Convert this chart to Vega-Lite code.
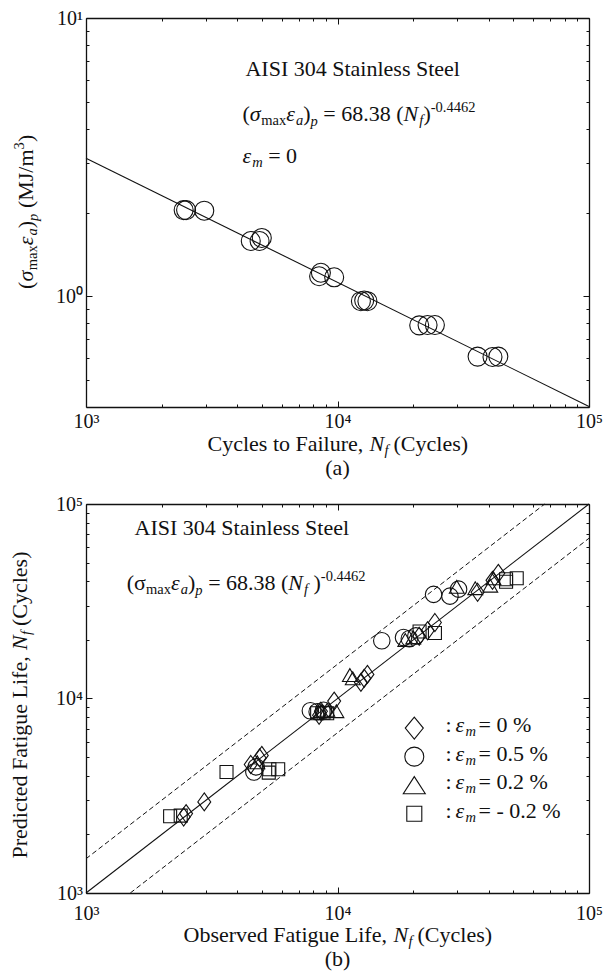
{
  "$schema": "https://vega.github.io/schema/vega-lite/v6.json",
  "background": "white",
  "padding": {"left": 8, "top": 8, "right": 0, "bottom": 0},
  "spacing": 15,
  "config": {
    "view": {"stroke": null},
    "font": "Liberation Serif",
    "mark": {"font": "Liberation Serif"},
    "text": {"font": "Liberation Serif", "fontSize": 22, "color": "#111", "align": "left", "baseline": "alphabetic"},
    "axis": {"domainColor": "#111", "domainWidth": 1.3, "tickColor": "#111", "tickWidth": 1, "labelFont": "Liberation Serif", "labelFontSize": 20, "labelColor": "#111", "grid": false, "labelOverlap": false, "labelFlush": false}
  },
  "vconcat": [
    {
      "width": 503,
      "height": 389,
      "resolve": {"axis": {"x": "independent", "y": "independent"}},
      "layer": [
        {
          "data": {"values": [
            {"N": 2445, "W": 2.04}, {"N": 2500, "W": 2.04}, {"N": 2953, "W": 2.03},
            {"N": 4520, "W": 1.58}, {"N": 4900, "W": 1.58}, {"N": 5000, "W": 1.62},
            {"N": 8450, "W": 1.18}, {"N": 8590, "W": 1.215}, {"N": 9700, "W": 1.17},
            {"N": 12390, "W": 0.96}, {"N": 12770, "W": 0.965}, {"N": 13150, "W": 0.96},
            {"N": 21130, "W": 0.786}, {"N": 22810, "W": 0.788}, {"N": 24390, "W": 0.788},
            {"N": 36060, "W": 0.607}, {"N": 41330, "W": 0.605}, {"N": 43600, "W": 0.607}
          ]},
          "mark": {"type": "point", "shape": "circle", "size": 361, "filled": false, "stroke": "#111", "strokeWidth": 1.1, "opacity": 1},
          "encoding": {
            "x": {"field": "N", "type": "quantitative", "scale": {"type": "log", "domain": [1000, 100000], "nice": false},
              "axis": {"orient": "bottom", "title": null, "values": [1000,2000,3000,4000,5000,6000,7000,8000,9000,10000,20000,30000,40000,50000,60000,70000,80000,90000,100000],
                "labelExpr": "abs(log(datum.value)/LN10 - round(log(datum.value)/LN10)) < 0.001 ? '10' + ['⁰','¹','²','³','⁴','⁵'][round(log(datum.value)/LN10)] : ''",
                "tickSize": {"condition": {"test": "abs(log(datum.value)/LN10 - round(log(datum.value)/LN10)) < 0.001", "value": -6}, "value": -3},
                "labelPadding": 10.5}},
            "y": {"field": "W", "type": "quantitative", "scale": {"type": "log", "domain": [0.4, 10], "nice": false},
              "axis": {"orient": "left", "title": null, "values": [0.5,0.6,0.7,0.8,0.9,1,2,3,4,5,6,7,8,9,10],
                "labelExpr": "abs(log(datum.value)/LN10 - round(log(datum.value)/LN10)) < 0.001 ? '10' + ['⁰','¹','²','³','⁴','⁵'][round(log(datum.value)/LN10)] : ''",
                "tickSize": {"condition": {"test": "abs(log(datum.value)/LN10 - round(log(datum.value)/LN10)) < 0.001", "value": -6}, "value": -3},
                "labelPadding": 9.5}}
          }
        },
        {
          "data": {"values": [{"N": 1000, "W": 3.135}, {"N": 100000, "W": 0.4017}]},
          "mark": {"type": "line", "stroke": "#111", "strokeWidth": 1.1},
          "encoding": {
            "x": {"field": "N", "type": "quantitative", "scale": {"type": "log", "domain": [1000, 100000], "nice": false},
              "axis": {"orient": "top", "title": null, "labels": false, "values": [1000,2000,3000,4000,5000,6000,7000,8000,9000,10000,20000,30000,40000,50000,60000,70000,80000,90000,100000],
                "tickSize": {"condition": {"test": "abs(log(datum.value)/LN10 - round(log(datum.value)/LN10)) < 0.001", "value": -6}, "value": -3}}},
            "y": {"field": "W", "type": "quantitative", "scale": {"type": "log", "domain": [0.4, 10], "nice": false},
              "axis": {"orient": "right", "title": null, "labels": false, "values": [0.5,0.6,0.7,0.8,0.9,1,2,3,4,5,6,7,8,9,10],
                "tickSize": {"condition": {"test": "abs(log(datum.value)/LN10 - round(log(datum.value)/LN10)) < 0.001", "value": -6}, "value": -3}}}
          }
        },
        {
          "data": {"values": [{}]},
          "encoding": {
            "x": {"datum": 4306, "type": "quantitative", "scale": {"type": "log", "domain": [1000, 100000], "nice": false}, "axis": null},
            "y": {"datum": 6.18, "type": "quantitative", "scale": {"type": "log", "domain": [0.4, 10], "nice": false}, "axis": null}
          },
          "layer": [
            {"mark": {"type": "text", "text": "AISI 304 Stainless Steel"}}
          ]
        },
        {
          "data": {"values": [{}]},
          "encoding": {
            "x": {"datum": 4190, "type": "quantitative", "scale": {"type": "log", "domain": [1000, 100000], "nice": false}, "axis": null},
            "y": {"datum": 4.25, "type": "quantitative", "scale": {"type": "log", "domain": [0.4, 10], "nice": false}, "axis": null}
          },
          "layer": [
            {"mark": {"type": "text", "text": "(", "dx": 0}},
            {"mark": {"type": "text", "text": "σ", "dx": 7.3, "fontStyle": "italic"}},
            {"mark": {"type": "text", "text": "max", "dx": 18.7, "dy": 4, "fontSize": 14.5}},
            {"mark": {"type": "text", "text": "ε", "dx": 43.7, "fontStyle": "italic"}},
            {"mark": {"type": "text", "text": "a", "dx": 53.4, "dy": 4, "fontSize": 14.5, "fontStyle": "italic"}},
            {"mark": {"type": "text", "text": ")", "dx": 60.7}},
            {"mark": {"type": "text", "text": "p", "dx": 68, "dy": 5, "fontSize": 14.5, "fontStyle": "italic"}},
            {"mark": {"type": "text", "text": "= 68.38 (", "dx": 80.8}},
            {"mark": {"type": "text", "text": "N", "dx": 161, "fontStyle": "italic"}},
            {"mark": {"type": "text", "text": "f", "dx": 176.7, "dy": 4, "fontSize": 14.5, "fontStyle": "italic"}},
            {"mark": {"type": "text", "text": ")", "dx": 181}},
            {"mark": {"type": "text", "text": "-0.4462", "dx": 188.3, "dy": -9, "fontSize": 14.5}}
          ]
        },
        {
          "data": {"values": [{}]},
          "encoding": {
            "x": {"datum": 4190, "type": "quantitative", "scale": {"type": "log", "domain": [1000, 100000], "nice": false}, "axis": null},
            "y": {"datum": 3.02, "type": "quantitative", "scale": {"type": "log", "domain": [0.4, 10], "nice": false}, "axis": null}
          },
          "layer": [
            {"mark": {"type": "text", "text": "ε", "dx": 0, "fontStyle": "italic"}},
            {"mark": {"type": "text", "text": "m", "dx": 9.7, "dy": 4, "fontSize": 14.5, "fontStyle": "italic"}},
            {"mark": {"type": "text", "text": "= 0", "dx": 25.7}}
          ]
        },
        {
          "data": {"values": [{}]},
          "encoding": {
            "x": {"datum": 10000, "type": "quantitative", "scale": {"type": "log", "domain": [1000, 100000], "nice": false}, "axis": null},
            "y": {"datum": 0.278, "type": "quantitative", "scale": {"type": "log", "domain": [0.4, 10], "nice": false}, "axis": null}
          },
          "layer": [
            {"mark": {"type": "text", "text": "Cycles to Failure,", "dx": -130}},
            {"mark": {"type": "text", "text": "N", "dx": 32, "fontStyle": "italic"}},
            {"mark": {"type": "text", "text": "f", "dx": 47, "dy": 4, "fontSize": 14.5, "fontStyle": "italic"}},
            {"mark": {"type": "text", "text": "(Cycles)", "dx": 56}}
          ]
        },
        {
          "data": {"values": [{}]},
          "encoding": {
            "x": {"datum": 10000, "type": "quantitative", "scale": {"type": "log", "domain": [1000, 100000], "nice": false}, "axis": null},
            "y": {"datum": 0.228, "type": "quantitative", "scale": {"type": "log", "domain": [0.4, 10], "nice": false}, "axis": null}
          },
          "layer": [
            {"mark": {"type": "text", "text": "(a)", "align": "center"}}
          ]
        },
        {
          "data": {"values": [{}]},
          "encoding": {
            "x": {"datum": 615, "type": "quantitative", "scale": {"type": "log", "domain": [1000, 100000], "nice": false}, "axis": null},
            "y": {"datum": 2.01, "type": "quantitative", "scale": {"type": "log", "domain": [0.4, 10], "nice": false}, "axis": null}
          },
          "layer": [
            {"mark": {"type": "text", "angle": 270, "text": "(", "dx": -77}},
            {"mark": {"type": "text", "angle": 270, "text": "σ", "dx": -69.7, "fontStyle": "italic"}},
            {"mark": {"type": "text", "angle": 270, "text": "max", "dx": -58.3, "dy": 4, "fontSize": 14.5}},
            {"mark": {"type": "text", "angle": 270, "text": "ε", "dx": -33.3, "fontStyle": "italic"}},
            {"mark": {"type": "text", "angle": 270, "text": "a", "dx": -23.6, "dy": 4, "fontSize": 14.5, "fontStyle": "italic"}},
            {"mark": {"type": "text", "angle": 270, "text": ")", "dx": -16.3}},
            {"mark": {"type": "text", "angle": 270, "text": "p", "dx": -9, "dy": 5, "fontSize": 14.5, "fontStyle": "italic"}},
            {"mark": {"type": "text", "angle": 270, "text": "(MJ/m", "dx": 3.8}},
            {"mark": {"type": "text", "angle": 270, "text": "3", "dx": 62.5, "dy": -9, "fontSize": 14.5}},
            {"mark": {"type": "text", "angle": 270, "text": ")", "dx": 69.8}}
          ]
        }
      ]
    },
    {
      "width": 503,
      "height": 389,
      "resolve": {"axis": {"x": "independent", "y": "independent"}},
      "layer": [
        {
          "data": {"values": [
            {"obs": 2445, "pred": 2460, "em": "0 %"}, {"obs": 2500, "pred": 2560, "em": "0 %"}, {"obs": 2953, "pred": 2940, "em": "0 %"},
            {"obs": 4520, "pred": 4580, "em": "0 %"}, {"obs": 4900, "pred": 4950, "em": "0 %"}, {"obs": 5000, "pred": 5100, "em": "0 %"},
            {"obs": 8450, "pred": 8200, "em": "0 %"}, {"obs": 8590, "pred": 8600, "em": "0 %"}, {"obs": 9700, "pred": 9700, "em": "0 %"},
            {"obs": 12390, "pred": 12100, "em": "0 %"}, {"obs": 12770, "pred": 12700, "em": "0 %"}, {"obs": 13150, "pred": 13300, "em": "0 %"},
            {"obs": 21130, "pred": 20900, "em": "0 %"}, {"obs": 22810, "pred": 22300, "em": "0 %"}, {"obs": 24390, "pred": 24600, "em": "0 %"},
            {"obs": 36060, "pred": 35200, "em": "0 %"}, {"obs": 41330, "pred": 40500, "em": "0 %"}, {"obs": 43600, "pred": 44000, "em": "0 %"},
            {"obs": 4650, "pred": 4190, "em": "0.5 %"}, {"obs": 4750, "pred": 4450, "em": "0.5 %"}, {"obs": 7800, "pred": 8650, "em": "0.5 %"},
            {"obs": 8300, "pred": 8550, "em": "0.5 %"}, {"obs": 8800, "pred": 8700, "em": "0.5 %"}, {"obs": 15000, "pred": 19800, "em": "0.5 %"},
            {"obs": 18300, "pred": 20600, "em": "0.5 %"}, {"obs": 19300, "pred": 20300, "em": "0.5 %"}, {"obs": 20500, "pred": 21000, "em": "0.5 %"},
            {"obs": 24100, "pred": 34300, "em": "0.5 %"}, {"obs": 28000, "pred": 33600, "em": "0.5 %"}, {"obs": 30300, "pred": 36500, "em": "0.5 %"},
            {"obs": 4800, "pred": 4700, "em": "0.2 %"}, {"obs": 8600, "pred": 8600, "em": "0.2 %"}, {"obs": 9100, "pred": 8750, "em": "0.2 %"},
            {"obs": 9900, "pred": 8600, "em": "0.2 %"}, {"obs": 11200, "pred": 13200, "em": "0.2 %"}, {"obs": 11500, "pred": 12700, "em": "0.2 %"},
            {"obs": 18600, "pred": 20000, "em": "0.2 %"}, {"obs": 20000, "pred": 20600, "em": "0.2 %"}, {"obs": 29800, "pred": 37500, "em": "0.2 %"},
            {"obs": 35300, "pred": 36900, "em": "0.2 %"}, {"obs": 40500, "pred": 38000, "em": "0.2 %"}, {"obs": 41700, "pred": 41500, "em": "0.2 %"},
            {"obs": 2160, "pred": 2480, "em": "-0.2 %"}, {"obs": 2380, "pred": 2500, "em": "-0.2 %"}, {"obs": 3620, "pred": 4190, "em": "-0.2 %"},
            {"obs": 5330, "pred": 4160, "em": "-0.2 %"}, {"obs": 5360, "pred": 4330, "em": "-0.2 %"}, {"obs": 5810, "pred": 4330, "em": "-0.2 %"},
            {"obs": 8300, "pred": 8400, "em": "-0.2 %"}, {"obs": 8800, "pred": 8450, "em": "-0.2 %"}, {"obs": 9100, "pred": 8400, "em": "-0.2 %"},
            {"obs": 21200, "pred": 22100, "em": "-0.2 %"}, {"obs": 24400, "pred": 21700, "em": "-0.2 %"}, {"obs": 46800, "pred": 41000, "em": "-0.2 %"},
            {"obs": 46800, "pred": 39800, "em": "-0.2 %"}, {"obs": 51600, "pred": 41500, "em": "-0.2 %"}
          ]},
          "mark": {"type": "point", "filled": false, "stroke": "#111", "strokeWidth": 1.1, "opacity": 1},
          "encoding": {
            "x": {"field": "obs", "type": "quantitative", "scale": {"type": "log", "domain": [1000, 100000], "nice": false},
              "axis": {"orient": "bottom", "title": null, "values": [1000,2000,3000,4000,5000,6000,7000,8000,9000,10000,20000,30000,40000,50000,60000,70000,80000,90000,100000],
                "labelExpr": "abs(log(datum.value)/LN10 - round(log(datum.value)/LN10)) < 0.001 ? '10' + ['⁰','¹','²','³','⁴','⁵'][round(log(datum.value)/LN10)] : ''",
                "tickSize": {"condition": {"test": "abs(log(datum.value)/LN10 - round(log(datum.value)/LN10)) < 0.001", "value": -6}, "value": -3},
                "labelPadding": 16}},
            "y": {"field": "pred", "type": "quantitative", "scale": {"type": "log", "domain": [1000, 100000], "nice": false},
              "axis": {"orient": "left", "title": null, "values": [1000,2000,3000,4000,5000,6000,7000,8000,9000,10000,20000,30000,40000,50000,60000,70000,80000,90000,100000],
                "labelExpr": "abs(log(datum.value)/LN10 - round(log(datum.value)/LN10)) < 0.001 ? '10' + ['⁰','¹','²','³','⁴','⁵'][round(log(datum.value)/LN10)] : ''",
                "tickSize": {"condition": {"test": "abs(log(datum.value)/LN10 - round(log(datum.value)/LN10)) < 0.001", "value": -6}, "value": -3},
                "labelPadding": 9.5}},
            "shape": {"field": "em", "type": "nominal", "scale": {"domain": ["0 %", "0.5 %", "0.2 %", "-0.2 %"], "range": ["M0,-1L0.72,0L0,1L-0.72,0Z", "circle", "triangle-up", "square"]}, "legend": null},
            "size": {"field": "em", "type": "ordinal", "scale": {"domain": ["0 %", "0.5 %", "0.2 %", "-0.2 %"], "range": [324, 169, 196, 144]}, "legend": null}
          }
        },
        {
          "data": {"values": [{"obs": 1000, "pred": 1000}, {"obs": 100000, "pred": 100000}]},
          "mark": {"type": "line", "stroke": "#111", "strokeWidth": 1.1},
          "encoding": {
            "x": {"field": "obs", "type": "quantitative", "scale": {"type": "log", "domain": [1000, 100000], "nice": false},
              "axis": {"orient": "top", "title": null, "labels": false, "values": [1000,2000,3000,4000,5000,6000,7000,8000,9000,10000,20000,30000,40000,50000,60000,70000,80000,90000,100000],
                "tickSize": {"condition": {"test": "abs(log(datum.value)/LN10 - round(log(datum.value)/LN10)) < 0.001", "value": -6}, "value": -3}}},
            "y": {"field": "pred", "type": "quantitative", "scale": {"type": "log", "domain": [1000, 100000], "nice": false},
              "axis": {"orient": "right", "title": null, "labels": false, "values": [1000,2000,3000,4000,5000,6000,7000,8000,9000,10000,20000,30000,40000,50000,60000,70000,80000,90000,100000],
                "tickSize": {"condition": {"test": "abs(log(datum.value)/LN10 - round(log(datum.value)/LN10)) < 0.001", "value": -6}, "value": -3}}}
          }
        },
        {
          "data": {"values": [{"obs": 1000, "pred": 1500}, {"obs": 66667, "pred": 100000}]},
          "mark": {"type": "line", "stroke": "#111", "strokeWidth": 1, "strokeDash": [5, 3]},
          "encoding": {
            "x": {"field": "obs", "type": "quantitative", "scale": {"type": "log", "domain": [1000, 100000], "nice": false}, "axis": null},
            "y": {"field": "pred", "type": "quantitative", "scale": {"type": "log", "domain": [1000, 100000], "nice": false}, "axis": null}
          }
        },
        {
          "data": {"values": [{"obs": 1500, "pred": 1000}, {"obs": 100000, "pred": 66667}]},
          "mark": {"type": "line", "stroke": "#111", "strokeWidth": 1, "strokeDash": [5, 3]},
          "encoding": {
            "x": {"field": "obs", "type": "quantitative", "scale": {"type": "log", "domain": [1000, 100000], "nice": false}, "axis": null},
            "y": {"field": "pred", "type": "quantitative", "scale": {"type": "log", "domain": [1000, 100000], "nice": false}, "axis": null}
          }
        },
        {
          "data": {"values": [{}]},
          "encoding": {
            "x": {"datum": 1560, "type": "quantitative", "scale": {"type": "log", "domain": [1000, 100000], "nice": false}, "axis": null},
            "y": {"datum": 69200, "type": "quantitative", "scale": {"type": "log", "domain": [1000, 100000], "nice": false}, "axis": null}
          },
          "layer": [
            {"mark": {"type": "text", "text": "AISI 304 Stainless Steel"}}
          ]
        },
        {
          "data": {"values": [{}]},
          "encoding": {
            "x": {"datum": 1452, "type": "quantitative", "scale": {"type": "log", "domain": [1000, 100000], "nice": false}, "axis": null},
            "y": {"datum": 36050, "type": "quantitative", "scale": {"type": "log", "domain": [1000, 100000], "nice": false}, "axis": null}
          },
          "layer": [
            {"mark": {"type": "text", "text": "(", "dx": 0}},
            {"mark": {"type": "text", "text": "σ", "dx": 7.3}},
            {"mark": {"type": "text", "text": "max", "dx": 19.3, "dy": 4, "fontSize": 14.5}},
            {"mark": {"type": "text", "text": "ε", "dx": 44.3, "fontStyle": "italic"}},
            {"mark": {"type": "text", "text": "a", "dx": 54, "dy": 4, "fontSize": 14.5, "fontStyle": "italic"}},
            {"mark": {"type": "text", "text": ")", "dx": 61.3}},
            {"mark": {"type": "text", "text": "p", "dx": 68.6, "dy": 5, "fontSize": 14.5, "fontStyle": "italic"}},
            {"mark": {"type": "text", "text": "= 68.38 (", "dx": 81.4}},
            {"mark": {"type": "text", "text": "N", "dx": 161.6, "fontStyle": "italic"}},
            {"mark": {"type": "text", "text": "f", "dx": 177.3, "dy": 4, "fontSize": 14.5, "fontStyle": "italic"}},
            {"mark": {"type": "text", "text": ")", "dx": 186.8}},
            {"mark": {"type": "text", "text": "-0.4462", "dx": 194.1, "dy": -9, "fontSize": 14.5}}
          ]
        },
        {
          "data": {"values": [{}]},
          "mark": {"type": "point", "shape": "M0,-1L0.82,0L0,1L-0.82,0Z", "size": 484, "filled": false, "stroke": "#111", "strokeWidth": 1.1, "opacity": 1},
          "encoding": {
            "x": {"datum": 20200, "type": "quantitative", "scale": {"type": "log", "domain": [1000, 100000], "nice": false}, "axis": null},
            "y": {"datum": 7047, "type": "quantitative", "scale": {"type": "log", "domain": [1000, 100000], "nice": false}, "axis": null}
          }
        },
        {
          "data": {"values": [{}]},
          "mark": {"type": "point", "shape": "circle", "size": 361, "filled": false, "stroke": "#111", "strokeWidth": 1.1, "opacity": 1},
          "encoding": {
            "x": {"datum": 20200, "type": "quantitative", "scale": {"type": "log", "domain": [1000, 100000], "nice": false}, "axis": null},
            "y": {"datum": 5023, "type": "quantitative", "scale": {"type": "log", "domain": [1000, 100000], "nice": false}, "axis": null}
          }
        },
        {
          "data": {"values": [{}]},
          "mark": {"type": "point", "shape": "M0,-0.78L1,0.78L-1,0.78Z", "size": 484, "filled": false, "stroke": "#111", "strokeWidth": 1.1, "opacity": 1},
          "encoding": {
            "x": {"datum": 20200, "type": "quantitative", "scale": {"type": "log", "domain": [1000, 100000], "nice": false}, "axis": null},
            "y": {"datum": 3583, "type": "quantitative", "scale": {"type": "log", "domain": [1000, 100000], "nice": false}, "axis": null}
          }
        },
        {
          "data": {"values": [{}]},
          "mark": {"type": "point", "shape": "square", "size": 225, "filled": false, "stroke": "#111", "strokeWidth": 1.1, "opacity": 1},
          "encoding": {
            "x": {"datum": 20200, "type": "quantitative", "scale": {"type": "log", "domain": [1000, 100000], "nice": false}, "axis": null},
            "y": {"datum": 2554, "type": "quantitative", "scale": {"type": "log", "domain": [1000, 100000], "nice": false}, "axis": null}
          }
        },
        {
          "data": {"values": [{}]},
          "encoding": {
            "x": {"datum": 26880, "type": "quantitative", "scale": {"type": "log", "domain": [1000, 100000], "nice": false}, "axis": null},
            "y": {"datum": 6718, "type": "quantitative", "scale": {"type": "log", "domain": [1000, 100000], "nice": false}, "axis": null}
          },
          "layer": [
            {"mark": {"type": "text", "text": ":", "dx": 0}},
            {"mark": {"type": "text", "text": "ε", "dx": 10, "fontStyle": "italic"}},
            {"mark": {"type": "text", "text": "m", "dx": 20, "dy": 4, "fontSize": 14.5, "fontStyle": "italic"}},
            {"mark": {"type": "text", "text": "= 0 %", "dx": 33}}
          ]
        },
        {
          "data": {"values": [{}]},
          "encoding": {
            "x": {"datum": 26880, "type": "quantitative", "scale": {"type": "log", "domain": [1000, 100000], "nice": false}, "axis": null},
            "y": {"datum": 4786, "type": "quantitative", "scale": {"type": "log", "domain": [1000, 100000], "nice": false}, "axis": null}
          },
          "layer": [
            {"mark": {"type": "text", "text": ":", "dx": 0}},
            {"mark": {"type": "text", "text": "ε", "dx": 10, "fontStyle": "italic"}},
            {"mark": {"type": "text", "text": "m", "dx": 20, "dy": 4, "fontSize": 14.5, "fontStyle": "italic"}},
            {"mark": {"type": "text", "text": "= 0.5 %", "dx": 33}}
          ]
        },
        {
          "data": {"values": [{}]},
          "encoding": {
            "x": {"datum": 26880, "type": "quantitative", "scale": {"type": "log", "domain": [1000, 100000], "nice": false}, "axis": null},
            "y": {"datum": 3418, "type": "quantitative", "scale": {"type": "log", "domain": [1000, 100000], "nice": false}, "axis": null}
          },
          "layer": [
            {"mark": {"type": "text", "text": ":", "dx": 0}},
            {"mark": {"type": "text", "text": "ε", "dx": 10, "fontStyle": "italic"}},
            {"mark": {"type": "text", "text": "m", "dx": 20, "dy": 4, "fontSize": 14.5, "fontStyle": "italic"}},
            {"mark": {"type": "text", "text": "= 0.2 %", "dx": 33}}
          ]
        },
        {
          "data": {"values": [{}]},
          "encoding": {
            "x": {"datum": 26880, "type": "quantitative", "scale": {"type": "log", "domain": [1000, 100000], "nice": false}, "axis": null},
            "y": {"datum": 2439, "type": "quantitative", "scale": {"type": "log", "domain": [1000, 100000], "nice": false}, "axis": null}
          },
          "layer": [
            {"mark": {"type": "text", "text": ":", "dx": 0}},
            {"mark": {"type": "text", "text": "ε", "dx": 10, "fontStyle": "italic"}},
            {"mark": {"type": "text", "text": "m", "dx": 20, "dy": 4, "fontSize": 14.5, "fontStyle": "italic"}},
            {"mark": {"type": "text", "text": "= - 0.2 %", "dx": 33}}
          ]
        },
        {
          "data": {"values": [{}]},
          "encoding": {
            "x": {"datum": 10000, "type": "quantitative", "scale": {"type": "log", "domain": [1000, 100000], "nice": false}, "axis": null},
            "y": {"datum": 559, "type": "quantitative", "scale": {"type": "log", "domain": [1000, 100000], "nice": false}, "axis": null}
          },
          "layer": [
            {"mark": {"type": "text", "text": "Observed Fatigue Life,", "dx": -154}},
            {"mark": {"type": "text", "text": "N", "dx": 56, "fontStyle": "italic"}},
            {"mark": {"type": "text", "text": "f", "dx": 71, "dy": 4, "fontSize": 14.5, "fontStyle": "italic"}},
            {"mark": {"type": "text", "text": "(Cycles)", "dx": 80}}
          ]
        },
        {
          "data": {"values": [{}]},
          "encoding": {
            "x": {"datum": 10000, "type": "quantitative", "scale": {"type": "log", "domain": [1000, 100000], "nice": false}, "axis": null},
            "y": {"datum": 420.6, "type": "quantitative", "scale": {"type": "log", "domain": [1000, 100000], "nice": false}, "axis": null}
          },
          "layer": [
            {"mark": {"type": "text", "text": "(b)", "align": "center"}}
          ]
        },
        {
          "data": {"values": [{}]},
          "encoding": {
            "x": {"datum": 582, "type": "quantitative", "scale": {"type": "log", "domain": [1000, 100000], "nice": false}, "axis": null},
            "y": {"datum": 9200, "type": "quantitative", "scale": {"type": "log", "domain": [1000, 100000], "nice": false}, "axis": null}
          },
          "layer": [
            {"mark": {"type": "text", "angle": 270, "text": "Predicted Fatigue Life,", "dx": -153}},
            {"mark": {"type": "text", "angle": 270, "text": "N", "dx": 55.5, "fontStyle": "italic"}},
            {"mark": {"type": "text", "angle": 270, "text": "f", "dx": 70.5, "dy": 4, "fontSize": 14.5, "fontStyle": "italic"}},
            {"mark": {"type": "text", "angle": 270, "text": "(Cycles)", "dx": 79.5}}
          ]
        }
      ]
    }
  ]
}
